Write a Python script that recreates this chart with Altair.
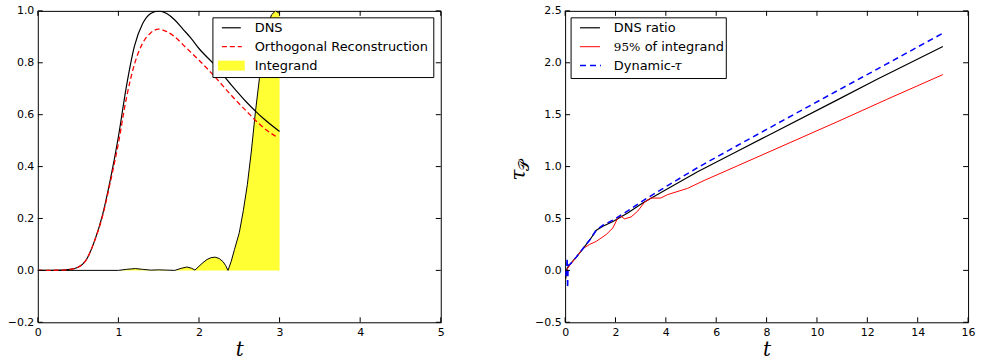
import altair as alt
import pandas as pd

# ---------------- Left panel data ----------------
t_dns = [0, 0.3, 0.4, 0.5, 0.6, 0.7, 0.8, 0.9, 1.0, 1.1, 1.2, 1.3, 1.4, 1.5, 1.6, 1.7, 1.8, 1.9,
         2.0, 2.2, 2.4, 2.6, 2.8, 3.0]
dns = [0, 0.001, 0.004, 0.012, 0.04, 0.11, 0.21, 0.35, 0.515, 0.71, 0.865, 0.95, 0.99, 1.0, 0.99,
       0.965, 0.93, 0.895, 0.855, 0.79, 0.715, 0.645, 0.585, 0.535]
t_orth = [0, 0.3, 0.4, 0.5, 0.6, 0.7, 0.8, 0.9, 1.0, 1.1, 1.2, 1.3, 1.4, 1.5, 1.6, 1.7, 1.8, 1.9,
          2.0, 2.2, 2.4, 2.6, 2.8, 2.97]
orth = [0, 0.001, 0.004, 0.012, 0.04, 0.11, 0.205, 0.34, 0.49, 0.665, 0.795, 0.875, 0.915, 0.93,
        0.92, 0.9, 0.87, 0.84, 0.81, 0.745, 0.675, 0.61, 0.55, 0.513]
t_int = [0, 1.0, 1.1, 1.21, 1.3, 1.4, 1.5, 1.6, 1.7, 1.78, 1.85, 1.91, 1.95, 2.0, 2.05, 2.1, 2.15,
         2.2, 2.25, 2.3, 2.33, 2.36, 2.4, 2.44, 2.5, 2.55, 2.6, 2.65, 2.7, 2.75, 2.8, 2.85, 2.9,
         2.95, 3.0]
integrand = [0, 0, 0.004, 0.007, 0.004, 0.001, 0.002, 0.001, 0.0, 0.008, 0.013, 0.008, 0.001,
             0.016, 0.03, 0.042, 0.049, 0.051, 0.046, 0.033, 0.019, 0.0, 0.035, 0.08, 0.145, 0.23,
             0.33, 0.46, 0.61, 0.74, 0.86, 0.94, 0.985, 1.0, 0.99]
left_x_ticks = [0, 1, 2, 3, 4, 5]
left_y_ticks = [-0.2, 0.0, 0.2, 0.4, 0.6, 0.8, 1.0]
left_labels = ["DNS", "Orthogonal Reconstruction", "Integrand"]

# ---------------- Right panel data ----------------
t_ratio = [0.02, 0.08, 0.2, 0.45, 0.71, 1.0, 1.24, 1.5, 1.9, 2.5, 3.08, 4.0, 5.26, 6.84, 8.0,
           10.79, 12.37, 15.0]
ratio = [-0.08, 0.02, 0.06, 0.13, 0.21, 0.3, 0.387, 0.425, 0.47, 0.555, 0.65, 0.777, 0.95, 1.148,
         1.293, 1.64, 1.838, 2.157]
t_p95 = [0.05, 0.18, 0.45, 0.71, 0.97, 1.24, 1.63, 1.9, 2.09, 2.19, 2.36, 2.62, 2.88, 3.15, 3.41,
         3.8, 4.07, 4.86, 5.52, 6.84, 10.79, 12.76, 15.0]
p95 = [0.0, 0.048, 0.13, 0.21, 0.25, 0.28, 0.345, 0.41, 0.505, 0.527, 0.496, 0.515, 0.57, 0.655,
       0.697, 0.697, 0.73, 0.79, 0.866, 1.007, 1.43, 1.646, 1.886]
t_dyn = [0.02, 0.06, 0.08, 0.1, 0.12, 0.2, 0.45, 0.71, 1.0, 1.24, 1.5, 1.9, 2.5, 3.08, 4.0, 5.26,
         6.84, 8.0, 10.5, 12.5, 15.0]
dyn = [-0.05, 0.02, 0.12, -0.17, 0.05, 0.06, 0.13, 0.21, 0.3, 0.39, 0.435, 0.485, 0.575, 0.67,
       0.806, 0.99, 1.203, 1.358, 1.69, 1.953, 2.285]
right_x_ticks = [0, 2, 4, 6, 8, 10, 12, 14, 16]
right_y_ticks = [-0.5, 0.0, 0.5, 1.0, 1.5, 2.0, 2.5]
right_labels = ["DNS ratio", "95%", "of integrand", "Dynamic-", "τ"]

W, H = 405, 313
TICK = 5
SANS = "DejaVu Sans"
SERIF = "DejaVu Serif"
LEGFS = 13
one = pd.DataFrame({"a": [0]})


def xaxis(vals):
    return alt.Axis(values=vals, format="d", title="t", titleFont=SERIF, titleFontStyle="italic",
                    titleFontWeight="normal", titleFontSize=20, titlePadding=2, labelFont=SANS,
                    labelFontSize=11, labelColor="black", labelPadding=4, tickSize=0, domain=False,
                    grid=False, labelFlush=False, labelOverlap=False)


def yaxis(vals):
    return alt.Axis(values=vals, format=".1f", title="", labelFont=SANS, labelFontSize=11,
                    labelColor="black", labelPadding=4, tickSize=0, domain=False, grid=False,
                    labelFlush=False, labelOverlap=False)


def tick_layers(xs, ys, X, Y):
    dx = pd.DataFrame({"t": xs})
    dy = pd.DataFrame({"v": ys})
    base_x = alt.Chart(dx).mark_rule(color="black", strokeWidth=1)
    base_y = alt.Chart(dy).mark_rule(color="black", strokeWidth=1)
    return [
        base_x.encode(x=X, y=alt.value(H), y2=alt.value(H - TICK)),
        base_x.encode(x=X, y=alt.value(0), y2=alt.value(TICK)),
        base_y.encode(y=Y, x=alt.value(0), x2=alt.value(TICK)),
        base_y.encode(y=Y, x=alt.value(W), x2=alt.value(W - TICK)),
    ]


# ---------------- Left chart ----------------
LX = alt.X("t:Q", scale=alt.Scale(domain=[0, 5], nice=False, zero=False), axis=xaxis(left_x_ticks))
LY = alt.Y("v:Q", scale=alt.Scale(domain=[-0.2, 1.0], nice=False, zero=False),
           axis=yaxis(left_y_ticks))

df_dns = pd.DataFrame({"t": t_dns, "v": dns})
df_orth = pd.DataFrame({"t": t_orth, "v": orth})
df_int = pd.DataFrame({"t": t_int, "v": integrand})

area = alt.Chart(df_int).mark_area(color="#ffff33", interpolate="linear", clip=True).encode(
    x=LX, y=LY, y2=alt.datum(0))
area_line = alt.Chart(df_int).mark_line(color="black", strokeWidth=1, interpolate="linear",
                                         clip=True).encode(x=LX, y=LY)
l_dns = alt.Chart(df_dns).mark_line(color="black", strokeWidth=1.2, interpolate="monotone",
                                    clip=True).encode(x=LX, y=LY)
l_orth = alt.Chart(df_orth).mark_line(color="#ff0000", strokeWidth=1.3, strokeDash=[5, 3],
                                      interpolate="monotone", clip=True).encode(x=LX, y=LY)

# legend (left)
LX0, LX1, LY0, LY1 = 176, 398, 7, 67
rows = [17, 36, 55]
leg_l = [
    alt.Chart(one).mark_rect(fill="white", stroke="black", strokeWidth=1).encode(
        x=alt.value(LX0), x2=alt.value(LX1), y=alt.value(LY0), y2=alt.value(LY1)),
    alt.Chart(one).mark_rule(color="black", strokeWidth=1.2).encode(
        x=alt.value(185), x2=alt.value(204), y=alt.value(rows[0])),
    alt.Chart(one).mark_rule(color="#ff0000", strokeWidth=1.3, strokeDash=[5, 3]).encode(
        x=alt.value(185), x2=alt.value(205), y=alt.value(rows[1])),
    alt.Chart(one).mark_rect(fill="#ffff33").encode(
        x=alt.value(181), x2=alt.value(208), y=alt.value(rows[2] - 5), y2=alt.value(rows[2] + 5)),
]
for lab, yy in zip(left_labels, rows):
    leg_l.append(alt.Chart(one).mark_text(font=SANS, fontSize=LEGFS, align="left",
                                          baseline="middle", color="black").encode(
        x=alt.value(218), y=alt.value(yy), text=alt.value(lab)))

left = alt.layer(area, area_line, l_dns, l_orth, *tick_layers(left_x_ticks, left_y_ticks, LX, LY),
                 *leg_l).properties(width=W, height=H)

# ---------------- Right chart ----------------
RXe = alt.X("t:Q", scale=alt.Scale(domain=[0, 16], nice=False, zero=False),
            axis=xaxis(right_x_ticks))
RYe = alt.Y("v:Q", scale=alt.Scale(domain=[-0.5, 2.5], nice=False, zero=False),
            axis=yaxis(right_y_ticks))

df_ratio = pd.DataFrame({"t": t_ratio, "v": ratio})
df_p95 = pd.DataFrame({"t": t_p95, "v": p95})
df_dyn = pd.DataFrame({"t": t_dyn, "v": dyn})

r_ratio = alt.Chart(df_ratio).mark_line(color="black", strokeWidth=1.2, clip=True).encode(
    x=RXe, y=RYe)
r_p95 = alt.Chart(df_p95).mark_line(color="#ff0000", strokeWidth=1, clip=True).encode(x=RXe, y=RYe)
r_dyn = alt.Chart(df_dyn).mark_line(color="#0000ff", strokeWidth=1.5, strokeDash=[6, 4],
                                    clip=True).encode(x=RXe, y=RYe)

RX0, RX1, RY0, RY1 = 6, 162, 7, 68
leg_r = [
    alt.Chart(one).mark_rect(fill="white", stroke="black", strokeWidth=1).encode(
        x=alt.value(RX0), x2=alt.value(RX1), y=alt.value(RY0), y2=alt.value(RY1)),
    alt.Chart(one).mark_rule(color="black", strokeWidth=1.2).encode(
        x=alt.value(15), x2=alt.value(35), y=alt.value(rows[0])),
    alt.Chart(one).mark_rule(color="#ff0000", strokeWidth=1).encode(
        x=alt.value(15), x2=alt.value(35), y=alt.value(rows[1])),
    alt.Chart(one).mark_rule(color="#0000ff", strokeWidth=1.5, strokeDash=[6, 4]).encode(
        x=alt.value(15), x2=alt.value(36), y=alt.value(rows[2])),
]
txt_specs = [
    (right_labels[0], 49, rows[0], SANS, "normal", LEGFS),
    (right_labels[1], 49, rows[1], SERIF, "normal", 12),
    (right_labels[2], 80, rows[1], SANS, "normal", LEGFS),
    (right_labels[3], 49, rows[2], SANS, "normal", LEGFS),
    (right_labels[4], 110, rows[2], SERIF, "italic", LEGFS),
]
for lab, xx, yy, fnt, sty, fs in txt_specs:
    leg_r.append(alt.Chart(one).mark_text(font=fnt, fontStyle=sty, fontSize=fs, align="left",
                                          baseline="middle", color="black").encode(
        x=alt.value(xx), y=alt.value(yy), text=alt.value(lab)))

# y title tau_P
ytitle = [
    alt.Chart(one).mark_text(font=SERIF, fontStyle="italic", fontSize=20, angle=270,
                             align="center", baseline="middle", color="black").encode(
        x=alt.value(-46), y=alt.value(165), text=alt.value("τ")),
    alt.Chart(one).mark_text(font=SERIF, fontSize=15, angle=270,
                             align="center", baseline="middle", color="black").encode(
        x=alt.value(-41), y=alt.value(155), text=alt.value("𝒫")),
]

right = alt.layer(r_ratio, r_p95, r_dyn, *tick_layers(right_x_ticks, right_y_ticks, RXe, RYe),
                  *leg_r, *ytitle).properties(width=W, height=H)

chart = alt.hconcat(left, right, spacing=125, bounds="flush").properties(
    padding={"left": 6, "top": 3, "right": 5, "bottom": 3}
).configure_view(stroke="black", strokeWidth=1).configure_axis(labelColor="black")

chart.save("out.html", embed_options={"renderer": "svg", "actions": False})
